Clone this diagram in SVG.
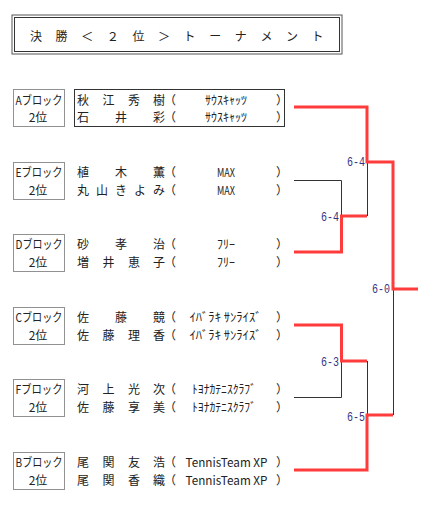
<svg xmlns="http://www.w3.org/2000/svg" width="436" height="513" viewBox="0 0 436 513">
<style>
text{font-family:"Noto Sans CJK JP","Noto Sans",sans-serif;font-size:12px;fill:#222}
.c{text-anchor:middle}
.sc{font-family:"Liberation Mono","Noto Sans CJK JP",monospace;font-size:13px;fill:#33337f;text-anchor:end}
.blk{fill:none;stroke:#333;stroke-width:1}
.dot{fill:none;stroke:#222;stroke-width:1;stroke-dasharray:1 1}
.red{fill:none;stroke:#ff3b3b;stroke-width:3}
.bl{fill:none;stroke:#333;stroke-width:1}
</style>
<rect width="436" height="513" fill="#fff"/>
<g id="title">
<rect x="12" y="15" width="330" height="39" fill="none" stroke="#555"/>
<rect x="14.5" y="17.5" width="325" height="34" fill="none" stroke="#333"/>
<text class="c" y="40.5" x="36 61.6 87.2 112.8 138.4 164 189.6 215.2 240.8 266.4 292 317.6">決勝＜２位＞トーナメント</text>
</g>
<g id="connectors">
<path class="bl" d="M294 180.5H341.5V216M294 397.5H341.5V361M367.5 216V162M367.5 361V415M393.5 289V415"/>
<path class="red" d="M294 107H367V162H393V289H418"/>
<path class="red" d="M294 252H341.5V216H367"/>
<path class="red" d="M294 325H341.5V361H367"/>
<path class="red" d="M294 470H367V415H393"/>
</g>
<g id="scores">
<text class="sc" x="365" y="166" textLength="18" lengthAdjust="spacingAndGlyphs">6-4</text>
<text class="sc" x="339" y="221" textLength="18" lengthAdjust="spacingAndGlyphs">6-4</text>
<text class="sc" x="390" y="293" textLength="18" lengthAdjust="spacingAndGlyphs">6-0</text>
<text class="sc" x="339" y="366" textLength="18" lengthAdjust="spacingAndGlyphs">6-3</text>
<text class="sc" x="365" y="421" textLength="18" lengthAdjust="spacingAndGlyphs">6-5</text>
</g>
<g id="blockA">
<rect class="dot" x="13.5" y="89.5" width="51" height="37"/>
<rect class="blk" x="74.5" y="89.5" width="210" height="37"/>
<text x="15.5" y="104.5" textLength="47" lengthAdjust="spacingAndGlyphs">Aブロック</text>
<text class="c" x="38" y="122">2位</text>
<text class="c" y="104.5" x="83 108.5 134 159">秋江秀樹</text>
<text class="c" y="122" x="83 121 159">石井彩</text>
<text x="164" y="104.5">（</text><text x="276" y="104.5">）</text>
<text x="164" y="122">（</text><text x="276" y="122">）</text>
<text class="c" x="226" y="104.5" textLength="42" lengthAdjust="spacingAndGlyphs">ｻｳｽｷｬｯﾂ</text>
<text class="c" x="226" y="122" textLength="42" lengthAdjust="spacingAndGlyphs">ｻｳｽｷｬｯﾂ</text>
</g>
<g id="blockE">
<rect class="dot" x="13.5" y="162.5" width="51" height="37"/>
<text x="15.5" y="177" textLength="47" lengthAdjust="spacingAndGlyphs">Eブロック</text>
<text class="c" x="38" y="194.5">2位</text>
<text class="c" y="177" x="83 121 159">植木薫</text>
<text class="c" y="194.5" x="83 102 121 140 159">丸山きよみ</text>
<text x="164" y="177">（</text><text x="276" y="177">）</text>
<text x="164" y="194.5">（</text><text x="276" y="194.5">）</text>
<text class="c" x="226" y="177" textLength="18" lengthAdjust="spacingAndGlyphs">MAX</text>
<text class="c" x="226" y="194.5" textLength="18" lengthAdjust="spacingAndGlyphs">MAX</text>
</g>
<g id="blockD">
<rect class="dot" x="13.5" y="234.5" width="51" height="37"/>
<text x="15.5" y="249" textLength="47" lengthAdjust="spacingAndGlyphs">Dブロック</text>
<text class="c" x="38" y="266.5">2位</text>
<text class="c" y="249" x="83 121 159">砂孝治</text>
<text class="c" y="266.5" x="83 108.5 134 159">増井恵子</text>
<text x="164" y="249">（</text><text x="276" y="249">）</text>
<text x="164" y="266.5">（</text><text x="276" y="266.5">）</text>
<text class="c" x="226" y="249" textLength="18" lengthAdjust="spacingAndGlyphs">ﾌﾘｰ</text>
<text class="c" x="226" y="266.5" textLength="18" lengthAdjust="spacingAndGlyphs">ﾌﾘｰ</text>
</g>
<g id="blockC">
<rect class="dot" x="13.5" y="307.5" width="51" height="37"/>
<text x="15.5" y="322" textLength="47" lengthAdjust="spacingAndGlyphs">Cブロック</text>
<text class="c" x="38" y="339.5">2位</text>
<text class="c" y="322" x="83 121 159">佐藤競</text>
<text class="c" y="339.5" x="83 108.5 134 159">佐藤理香</text>
<text x="164" y="322">（</text><text x="276" y="322">）</text>
<text x="164" y="339.5">（</text><text x="276" y="339.5">）</text>
<text class="c" x="225.5" y="322" textLength="72" lengthAdjust="spacingAndGlyphs">ｲﾊﾞﾗｷ ｻﾝﾗｲｽﾞ</text>
<text class="c" x="225.5" y="339.5" textLength="72" lengthAdjust="spacingAndGlyphs">ｲﾊﾞﾗｷ ｻﾝﾗｲｽﾞ</text>
</g>
<g id="blockF">
<rect class="dot" x="13.5" y="379.5" width="51" height="37"/>
<text x="15.5" y="394" textLength="47" lengthAdjust="spacingAndGlyphs">Fブロック</text>
<text class="c" x="38" y="411.5">2位</text>
<text class="c" y="394" x="83 108.5 134 159">河上光次</text>
<text class="c" y="411.5" x="83 108.5 134 159">佐藤享美</text>
<text x="164" y="394">（</text><text x="276" y="394">）</text>
<text x="164" y="411.5">（</text><text x="276" y="411.5">）</text>
<text class="c" x="224" y="394" textLength="64" lengthAdjust="spacingAndGlyphs">ﾄﾖﾅｶﾃﾆｽｸﾗﾌﾞ</text>
<text class="c" x="224" y="411.5" textLength="64" lengthAdjust="spacingAndGlyphs">ﾄﾖﾅｶﾃﾆｽｸﾗﾌﾞ</text>
</g>
<g id="blockB">
<rect class="dot" x="13.5" y="452.5" width="51" height="37"/>
<text x="15.5" y="467" textLength="47" lengthAdjust="spacingAndGlyphs">Bブロック</text>
<text class="c" x="38" y="484.5">2位</text>
<text class="c" y="467" x="83 108.5 134 159">尾関友浩</text>
<text class="c" y="484.5" x="83 108.5 134 159">尾関香織</text>
<text x="164" y="467">（</text><text x="276" y="467">）</text>
<text x="164" y="484.5">（</text><text x="276" y="484.5">）</text>
<text class="c" x="226.5" y="467" textLength="82" lengthAdjust="spacingAndGlyphs">TennisTeam XP</text>
<text class="c" x="226.5" y="484.5" textLength="82" lengthAdjust="spacingAndGlyphs">TennisTeam XP</text>
</g>
</svg>
